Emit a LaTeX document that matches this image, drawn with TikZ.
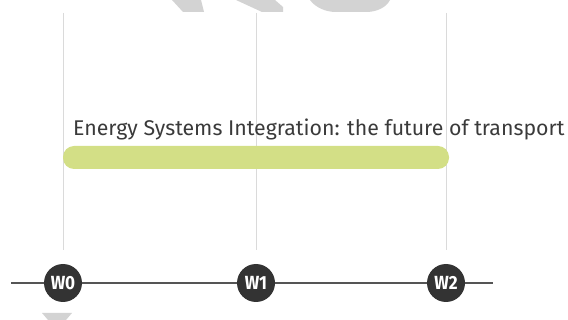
\documentclass[tikz,border=0pt]{standalone}
\usepackage{fontspec}
\setmainfont{Fira Sans}
\newfontfamily\titlefont{Fira Sans}
\newfontfamily\labelfont[FakeStretch=0.9]{Fira Sans Bold}
\definecolor{wm}{HTML}{D3D3D3}
\definecolor{grid}{HTML}{DADADA}
\definecolor{axis}{HTML}{555555}
\definecolor{dot}{HTML}{333333}
\definecolor{bar}{HTML}{D3DF86}
\definecolor{txt}{HTML}{3A3A3A}
\tikzset{
  guide/.style={draw=grid, line width=0.9pt},
  milestone/.style={circle, fill=dot, minimum size=38pt, inner sep=0pt, text=white, font=\labelfont\fontsize{19}{19}\selectfont},
  axisline/.style={draw=axis, line width=1.8pt},
  taskbar/.style={fill=bar, rounded corners=11pt},
}
\begin{document}
\begin{tikzpicture}[x=1pt,y=-1pt]
\useasboundingbox (0,0) rectangle (568,320);
% watermark fragments
\fill[wm] (172,0) -- (201,0) -- (204,12) -- (183,12) -- cycle;
\fill[wm] (236,0) -- (275,0) -- (283,7) -- (283,12) -- (262,12) -- cycle;
\fill[wm] (310,0) -- (390,0) .. controls (386,8) and (376,12) .. (366,12) -- (336,12) .. controls (325,12) and (315,7) .. (310,0) -- cycle;
\fill[wm] (42,313) -- (72,313) -- (66,320) -- (48,320) -- cycle;
% guides
\coordinate (g0t) at (63,13); \coordinate (g0b) at (63,250);
\coordinate (g1t) at (256,13); \coordinate (g1b) at (256,250);
\coordinate (g2t) at (446,13); \coordinate (g2b) at (446,250);
\draw[guide] (g0t) -- (g0b);
\draw[guide] (g1t) -- (g1b);
\draw[guide] (g2t) -- (g2b);
% bar
\fill[taskbar] (63,146) rectangle (449,169);
\node[anchor=base west, inner sep=0pt, text=txt, font=\titlefont\fontsize{21.3}{21.3}\selectfont] (title) at (73,136) {Energy Systems Integration: the future of transport};
% axis
\coordinate (al) at (11,283); \coordinate (ar) at (493,283);
\draw[axisline] (al) -- (ar);
\node[milestone] (w0) at (63,283) {W0};
\node[milestone] (w1) at (256,283) {W1};
\node[milestone] (w2) at (446,283) {W2};
\end{tikzpicture}
\end{document}
